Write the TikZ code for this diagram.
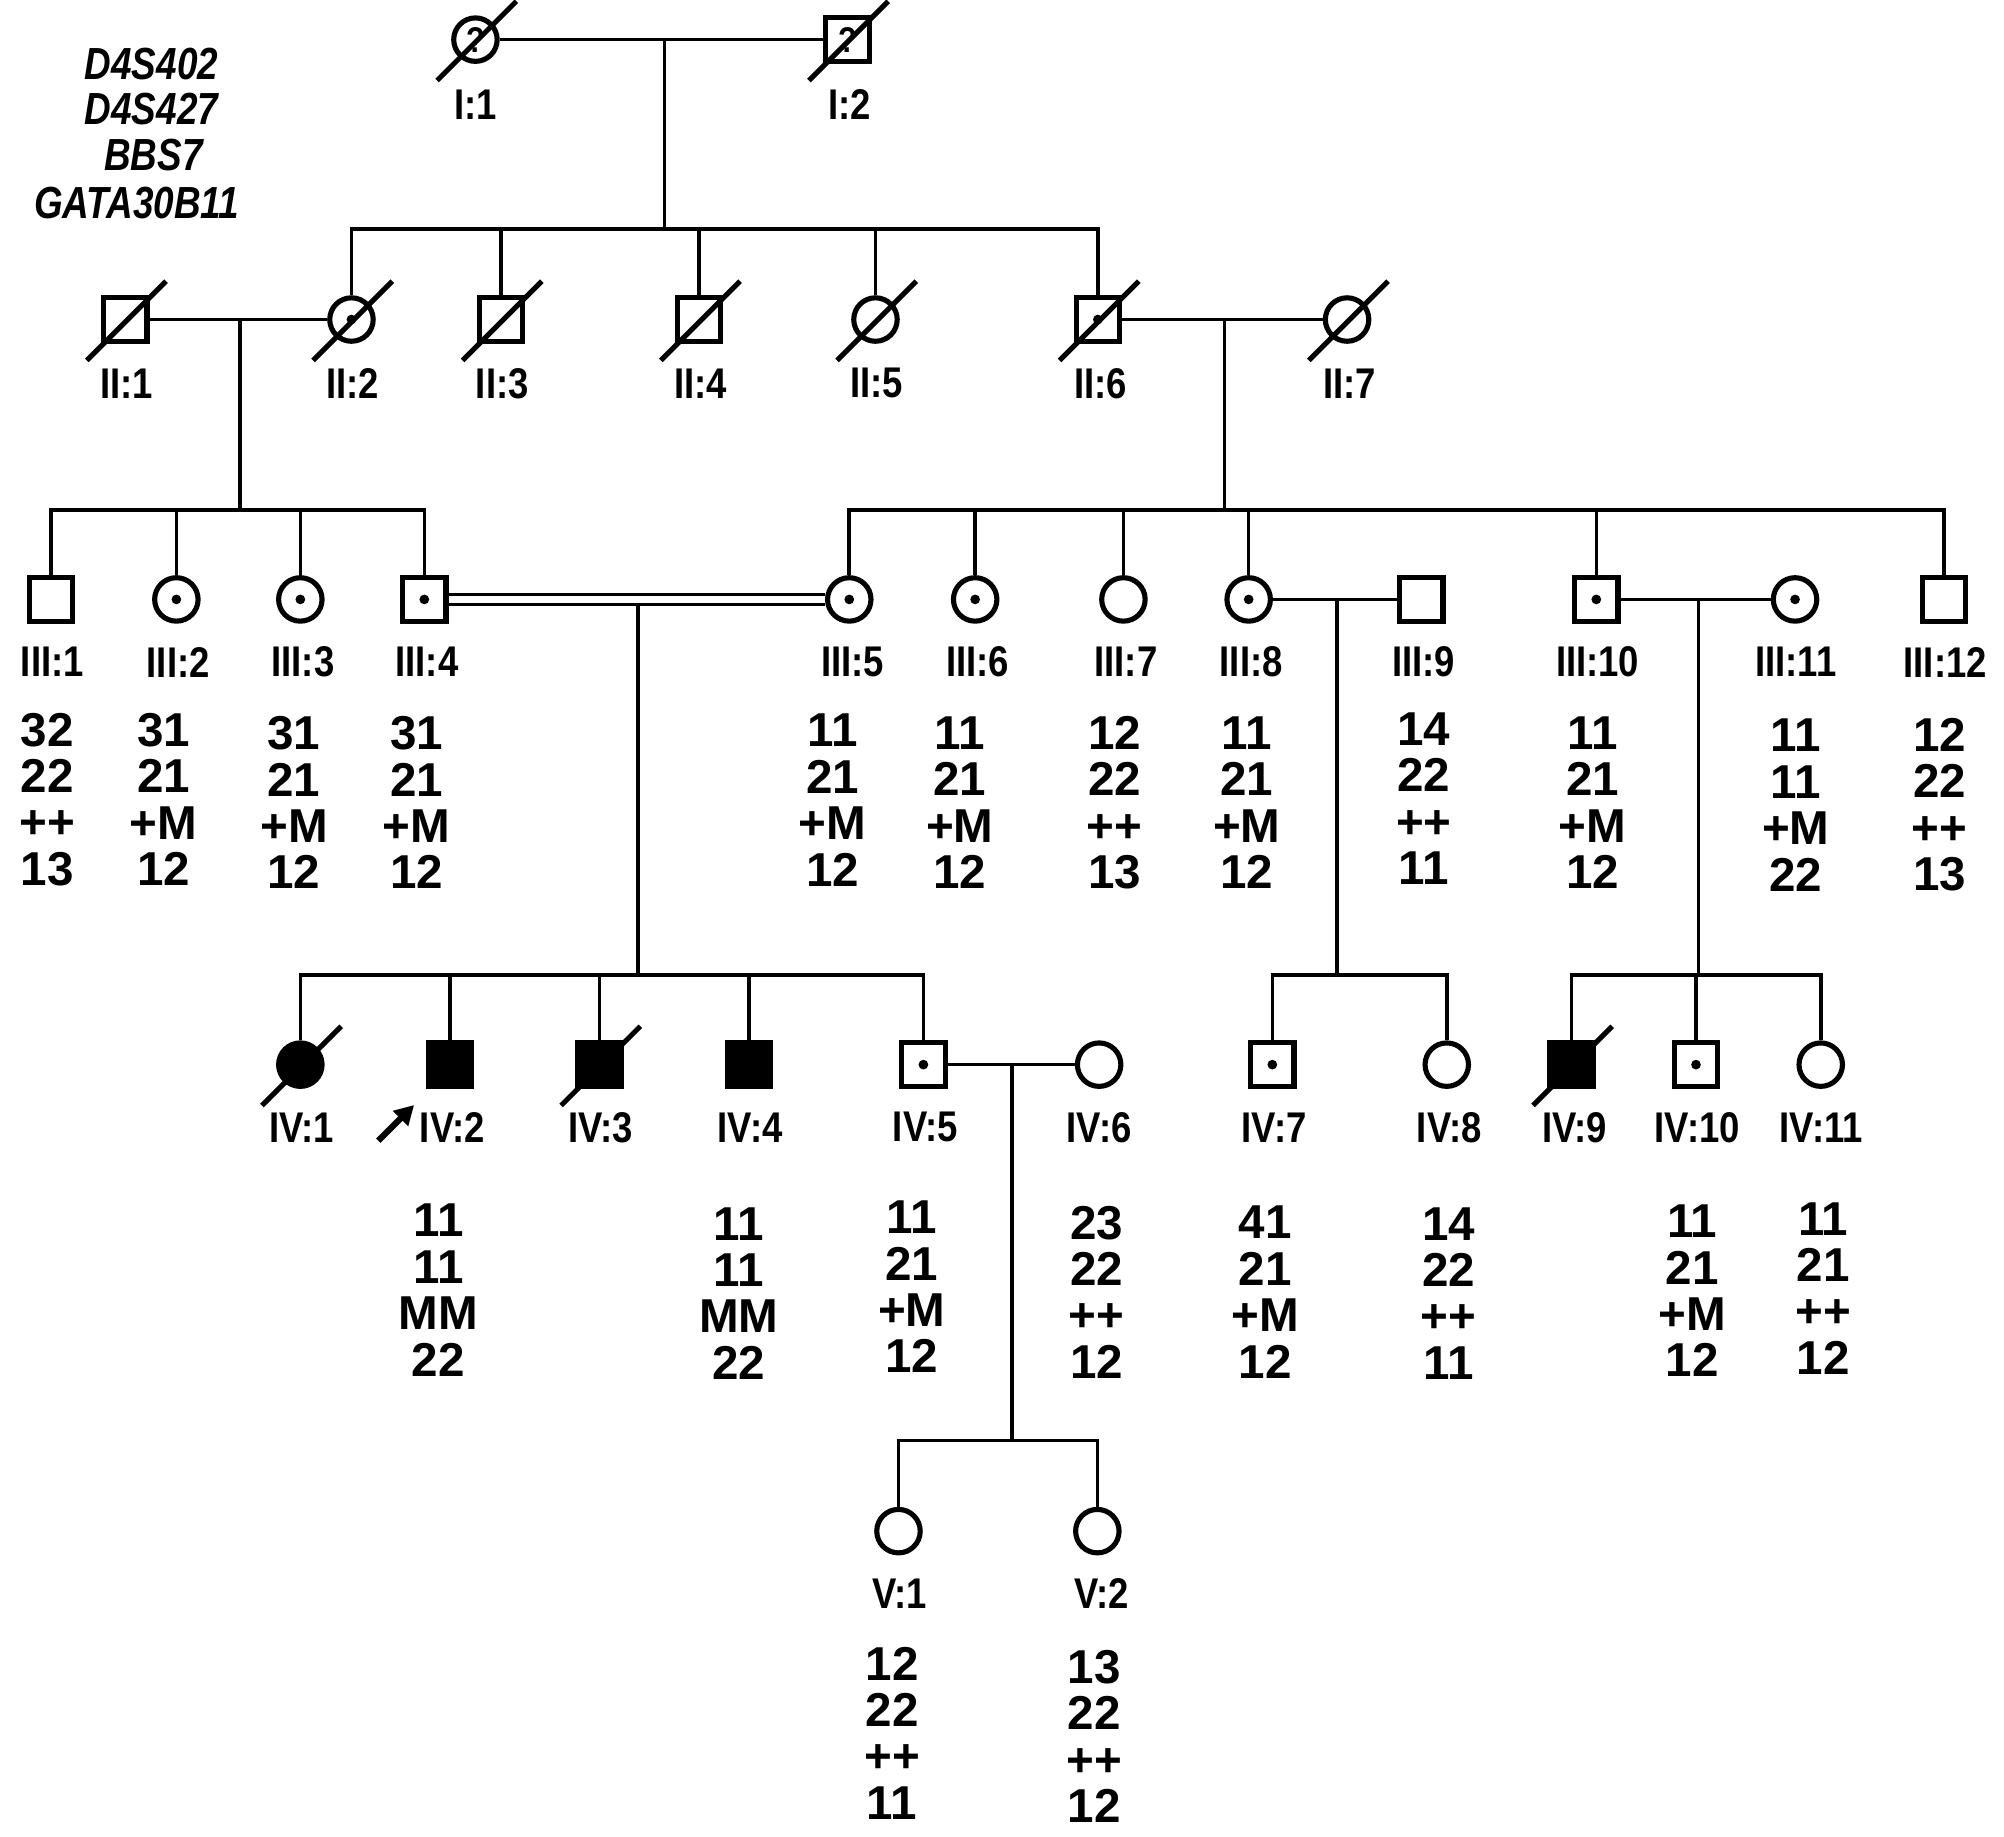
\documentclass[tikz,border=0pt]{standalone}
\usepackage{fontspec}
\setmainfont{Liberation Sans}
\newfontfamily\labfam[FakeStretch=0.85]{Liberation Sans}
\newfontfamily\locfam[FakeStretch=0.82]{Liberation Sans}
\usetikzlibrary{arrows.meta}
\newcommand\deadmark[1]{\draw[slash] ([shift={(-30,32)}]#1.center) -- ([shift={(32,-30)}]#1.center);}
\newcommand\carrier[1]{\fill (#1.center) circle (1.9pt);}
\newcommand\gtype[7]{\node[gt] (#1) at (#2,#3) {#4\\#5\\#6\\#7};}
\newcommand\plab[4]{\node[lab] (#1) at (#2,#3) {#4};}
\begin{document}
\begin{tikzpicture}[x=0.5pt,y=-0.5pt,
 sym/.style={draw, line width=2pt, minimum size=17pt, inner sep=0pt, fill=white, font=\labfam\bfseries\fontsize{14pt}{14pt}\selectfont},
 male/.style={sym, rectangle},
 female/.style={sym, circle},
 aff/.style={fill=black},
 conn/.style={line width=1.4pt},
 slash/.style={line width=2pt},
 lab/.style={font=\labfam\bfseries\fontsize{16.8pt}{18pt}\selectfont, inner sep=0pt},
 gt/.style={font=\bfseries\fontsize{18.6pt}{18.15pt}\selectfont, align=center, inner sep=0pt},
 loc/.style={font=\locfam\bfseries\itshape\fontsize{17.6pt}{18pt}\selectfont, inner sep=0pt},
]
\useasboundingbox (0,0) rectangle (1568,1437);

% locus names
\node[loc] (loc1) at (118.5,50) {D4S402};
\node[loc] (loc2) at (118.5,85.5) {D4S427};
\node[loc] (loc3) at (120,121.5) {BBS7};
\node[loc] (loc4) at (107,159) {GATA30B11};

% generation I
\node[female] (i1) at (372,31) {?};
\node[male] (i2) at (663,31) {?};
\plab{li1}{372}{82}{I:1}
\plab{li2}{665}{82}{I:2}

% generation II
\node[male] (ii1) at (98,250) {};
\node[female] (ii2) at (275,250) {};
\node[male] (ii3) at (392,250) {};
\node[male] (ii4) at (547,250) {};
\node[female] (ii5) at (685,250) {};
\node[male] (ii6) at (859,250) {};
\node[female] (ii7) at (1054,250) {};
\plab{lii1}{99}{300}{II:1}
\plab{lii2}{276}{300}{II:2}
\plab{lii3}{393}{300}{II:3}
\plab{lii4}{548}{300}{II:4}
\plab{lii5}{686}{300}{II:5}
\plab{lii6}{861}{300}{II:6}
\plab{lii7}{1056}{300}{II:7}

% generation III
\node[male] (iii1) at (40,469) {};
\node[female] (iii2) at (138,469) {};
\node[female] (iii3) at (235,469) {};
\node[male] (iii4) at (332,469) {};
\node[female] (iii5) at (664.5,469) {};
\node[female] (iii6) at (763,469) {};
\node[female] (iii7) at (879,469) {};
\node[female] (iii8) at (977,469) {};
\node[male] (iii9) at (1112,469) {};
\node[male] (iii10) at (1249,469) {};
\node[female] (iii11) at (1404.5,469) {};
\node[male] (iii12) at (1521,469) {};
\plab{liii1}{41}{518}{III:1}
\plab{liii2}{139.5}{518}{III:2}
\plab{liii3}{237}{518}{III:3}
\plab{liii4}{334}{518}{III:4}
\plab{liii5}{667}{518}{III:5}
\plab{liii6}{765}{518}{III:6}
\plab{liii7}{881}{518}{III:7}
\plab{liii8}{979}{518}{III:8}
\plab{liii9}{1114}{518}{III:9}
\plab{liii10}{1250}{518}{III:10}
\plab{liii11}{1405}{518}{III:11}
\plab{liii12}{1522}{518}{III:12}

% generation IV
\node[female,aff] (iv1) at (235,833) {};
\node[male,aff] (iv2) at (352,833) {};
\node[male,aff] (iv3) at (469,833) {};
\node[male,aff] (iv4) at (586,833) {};
\node[male] (iv5) at (722.5,833) {};
\node[female] (iv6) at (860,833) {};
\node[male] (iv7) at (995.5,833) {};
\node[female] (iv8) at (1132,833) {};
\node[male,aff] (iv9) at (1229.5,833) {};
\node[male] (iv10) at (1327,833) {};
\node[female] (iv11) at (1424.6,833) {};
\plab{liv1}{236}{882}{IV:1}
\plab{liv2}{354}{882}{IV:2}
\plab{liv3}{470}{882}{IV:3}
\plab{liv4}{587}{882}{IV:4}
\plab{liv5}{724}{882}{IV:5}
\plab{liv6}{860}{882}{IV:6}
\plab{liv7}{997}{882}{IV:7}
\plab{liv8}{1134}{882}{IV:8}
\plab{liv9}{1232}{882}{IV:9}
\plab{liv10}{1328}{882}{IV:10}
\plab{liv11}{1425}{882}{IV:11}

% generation V
\node[female] (v1) at (703,1198) {};
\node[female] (v2) at (858.6,1198) {};
\plab{lv1}{704}{1247}{V:1}
\plab{lv2}{862}{1247}{V:2}

% connectors
\coordinate (m1) at (520,31);
\coordinate (s1) at (520,179);
\draw[conn] (i1) -- (i2);
\draw[conn] (m1) -- (s1);
\draw[conn] (ii2.north) |- (s1) -| (ii6.north);
\foreach \n in {ii3,ii4,ii5} {\draw[conn] (\n.north) -- (\n.north |- s1);}

\coordinate (m2) at (188,250);
\coordinate (s2) at (188,399);
\draw[conn] (ii1) -- (ii2);
\draw[conn] (m2) -- (s2);
\draw[conn] (iii1.north) |- (s2) -| (iii4.north);
\foreach \n in {iii2,iii3} {\draw[conn] (\n.north) -- (\n.north |- s2);}

\coordinate (m3) at (958,250);
\coordinate (s3) at (958,399);
\draw[conn] (ii6) -- (ii7);
\draw[conn] (m3) -- (s3);
\draw[conn] (iii5.north) |- (s3) -| (iii12.north);
\foreach \n in {iii6,iii7,iii8,iii10} {\draw[conn] (\n.north) -- (\n.north |- s3);}

\draw[conn] ([yshift=2pt]iii4.east) -- ([yshift=2pt]iii5.west);
\draw[conn] ([yshift=-2pt]iii4.east) -- ([yshift=-2pt]iii5.west);
\coordinate (m4) at (499,473);
\coordinate (s4) at (499,763);
\draw[conn] (m4) -- (s4);
\draw[conn] (iv1.north) |- (s4) -| (iv5.north);
\foreach \n in {iv2,iv3,iv4} {\draw[conn] (\n.north) -- (\n.north |- s4);}

\coordinate (m5) at (1046,469);
\coordinate (s5) at (1046,763);
\draw[conn] (iii8) -- (iii9);
\draw[conn] (m5) -- (s5);
\draw[conn] (iv7.north) |- (s5) -| (iv8.north);

\coordinate (m6) at (1329,469);
\coordinate (s6) at (1329,763);
\draw[conn] (iii10) -- (iii11);
\draw[conn] (m6) -- (s6);
\draw[conn] (iv9.north) |- (s6) -| (iv11.north);
\draw[conn] (iv10.north) -- (iv10.north |- s6);

\coordinate (m7) at (792,833);
\coordinate (s7) at (792,1127);
\draw[conn] (iv5) -- (iv6);
\draw[conn] (m7) -- (s7);
\draw[conn] (v1.north) |- (s7) -| (v2.north);

% carriers
\foreach \n in {ii2,ii6,iii2,iii3,iii4,iii5,iii6,iii8,iii10,iii11,iv5,iv7,iv10} {\carrier{\n}}

% deceased
\foreach \n in {i1,i2,ii1,ii2,ii3,ii4,ii5,ii6,ii7,iv1,iv3,iv9} {\deadmark{\n}}

% proband arrow
\coordinate (arrA) at (296,892.5);
\coordinate (arrB) at (324,864.6);
\draw[line width=2.4pt, -{Triangle[length=7.5pt,width=8pt]}] (arrA) -- (arrB);

% genotypes
\gtype{g31}{37}{625.5}{32}{22}{++}{13}
\gtype{g32}{128}{625.5}{31}{21}{+M}{12}
\gtype{g33}{230}{628}{31}{21}{+M}{12}
\gtype{g34}{326}{628}{31}{21}{+M}{12}
\gtype{g35}{651.5}{626}{11}{21}{+M}{12}
\gtype{g36}{751}{628}{11}{21}{+M}{12}
\gtype{g37}{872}{628}{12}{22}{++}{13}
\gtype{g38}{975.5}{628}{11}{21}{+M}{12}
\gtype{g39}{1114}{625}{14}{22}{++}{11}
\gtype{g310}{1246}{628}{11}{21}{+M}{12}
\gtype{g311}{1405}{630}{11}{11}{+M}{22}
\gtype{g312}{1517.5}{629.5}{12}{22}{++}{13}

\gtype{g42}{343}{1009.5}{11}{11}{MM}{22}
\gtype{g44}{578}{1012}{11}{11}{MM}{22}
\gtype{g45}{713.5}{1007}{11}{21}{+M}{12}
\gtype{g46}{858}{1011}{23}{22}{++}{12}
\gtype{g47}{990}{1011}{41}{21}{+M}{12}
\gtype{g48}{1133.5}{1012}{14}{22}{++}{11}
\gtype{g410}{1324}{1010}{11}{21}{+M}{12}
\gtype{g411}{1426.5}{1008}{11}{21}{++}{12}

\gtype{g51}{698}{1356}{12}{22}{++}{11}
\gtype{g52}{856}{1358.5}{13}{22}{++}{12}
\end{tikzpicture}
\end{document}
